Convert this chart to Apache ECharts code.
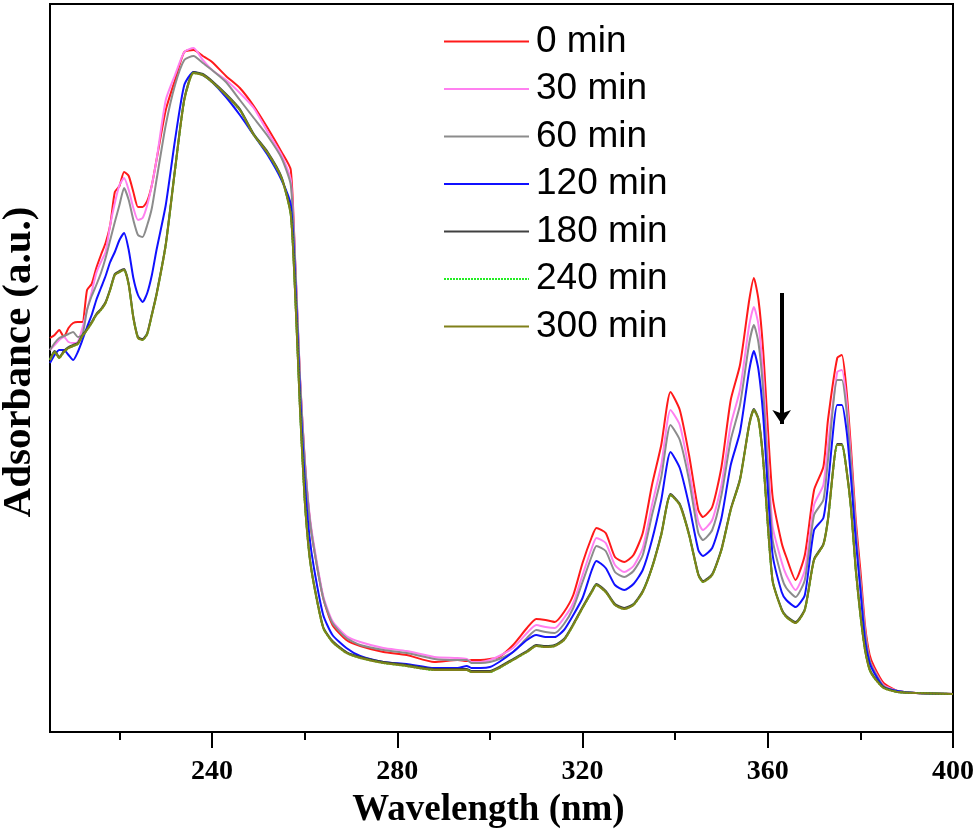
<!DOCTYPE html>
<html>
<head>
<meta charset="utf-8">
<script src="https://cdn.jsdelivr.net/npm/echarts@6/dist/echarts.min.js"></script>
<style>html,body{margin:0;padding:0;background:#fff;}#c{width:980px;height:839px;}</style>
</head>
<body>
<div id="c"></div>
<script>
// Wavelength grid (nm)
const wavelengths = [205,206,207,208,209,210,211,212,213,214,215,216,217,218,219,220,221,222,223,224,225,226,227,228,230,232,234,236,238,240,243,246,249,252,255,257,258,259,260,261,262,264,266,269,272,277,282,288,293,295,296,298,300,302,305,308,310,312,314,316,318,320,322,323,325,327,329,331,333,335,337,339,341,343,345,346,348,350,352,354,356,357,358,359,361,363,364,366,368,370,372,373,375,376,377,378,379,380,381,382,383,385,388,392,400];

// Absorbance (a.u.) per irradiation time
const abs0 = [394,397,402,395,404,409,410,410,442,448,464,477,489,507,540,546,560,556,540,525,525,531,547,572,622,652,680,682,676,670,656,644,626,604,580,562,462,352,272,217,184,134,107,92,86,80,77,70,72,71,72,72,73,75,87,104,113,112,110,120,137,169,195,204,199,175,170,177,199,247,287,340,322,277,222,215,225,265,332,367,432,454,432,382,237,189,175,152,177,242,265,312,374,377,342,282,212,162,107,77,65,49,41,39,38];
const abs30 = [382,387,392,395,390,389,390,404,422,440,459,470,480,507,529,547,554,542,524,512,514,527,547,572,632,657,680,684,672,662,652,639,624,600,577,552,467,354,274,220,187,136,111,96,90,84,81,75,74,73,70,70,72,76,84,99,107,105,104,114,129,157,184,194,189,167,160,166,184,227,267,322,307,262,210,202,212,247,307,342,407,425,407,357,207,170,157,142,162,227,247,287,360,362,332,272,204,152,102,72,62,47,41,39,38];
const abs60 = [382,389,394,396,398,400,395,397,422,436,447,459,474,492,510,527,544,532,512,497,495,507,524,552,607,647,672,676,669,662,650,632,614,596,574,547,464,352,272,217,184,134,109,94,87,82,79,73,72,72,69,69,70,73,80,94,102,100,99,108,124,150,176,186,181,160,155,161,177,217,255,307,292,252,199,192,202,237,292,327,389,407,389,342,194,155,144,135,152,217,232,272,352,352,322,267,202,150,100,72,61,46,41,39,38];
const abs120 = [369,377,382,382,377,372,380,392,405,417,432,444,456,470,480,492,499,482,454,437,430,439,457,482,527,592,647,660,657,650,635,617,597,577,552,527,447,337,252,197,164,117,97,84,76,70,68,64,64,66,64,64,65,70,80,92,97,95,95,102,117,134,162,171,164,147,142,148,162,192,232,280,264,227,182,176,184,214,267,300,362,381,362,317,179,140,132,125,137,202,214,247,327,327,302,252,192,142,92,69,59,45,41,39,38];
const abs180 = [373,381,375,381,385,387,389,397,403,410,418,423,430,443,458,461,463,448,415,395,393,399,418,438,488,563,633,660,658,651,638,623,598,580,555,518,433,323,233,178,148,105,91,80,75,70,67,63,63,63,61,61,61,65,73,81,87,86,87,93,108,125,141,148,141,128,124,128,141,165,198,238,228,198,158,151,158,183,223,253,308,323,313,273,153,123,116,110,123,173,188,213,288,288,263,223,163,118,83,63,55,45,40,39,38];
const abs240 = [372,380,374,380,384,386,388,396,402,409,417,422,429,442,457,460,462,447,414,394,392,398,417,437,487,562,632,659,657,650,637,622,597,579,554,517,432,322,232,177,147,104,90,79,74,69,66,62,62,62,60,60,60,64,72,80,86,85,86,92,107,124,140,147,140,127,123,127,140,164,197,237,227,197,157,150,157,182,222,252,307,322,312,272,152,122,115,109,122,172,187,212,287,287,262,222,162,117,82,62,54,44,40,39,38];
const abs300 = [372,380,374,380,384,386,388,396,402,409,417,422,429,442,457,460,462,447,414,394,392,398,417,437,487,562,632,659,657,650,637,622,597,579,554,517,432,322,232,177,147,104,90,79,74,69,66,62,62,62,60,60,60,64,72,80,86,85,86,92,107,124,140,147,140,127,123,127,140,164,197,237,227,197,157,150,157,182,222,252,307,322,312,272,152,122,115,109,122,172,187,212,287,287,262,222,162,117,82,62,54,44,40,39,38];

const seriesNames = ['0 min','30 min','60 min','120 min','180 min','240 min','300 min'];
const seriesValues = [abs0, abs30, abs60, abs120, abs180, abs240, abs300];
const seriesColors = ['#ff1a1a','#ff80f0','#8c8c8c','#1010ff','#404040','#22ee22','#80801a'];

const majorTicks = [240,280,320,360,400];
const minorTicks = [220,260,300,340,380];
// arrow annotation (nm, a.u.)
const arrowStart = [363, 439];
const arrowEnd = [363, 308];

const serif = "'Liberation Serif','Times New Roman',serif";
const sans = "'Liberation Sans',Arial,sans-serif";

const chart = echarts.init(document.getElementById('c'));
const series = seriesNames.map((n, k) => {
  const s = {
    name: n,
    type: 'line',
    xAxisIndex: 0,
    symbol: 'none',
    smooth: 0.2,
    data: wavelengths.map((w, i) => [w, seriesValues[k][i]]),
    lineStyle: { color: seriesColors[k], width: 2, type: k === 5 ? [2, 1] : 'solid' },
    itemStyle: { color: seriesColors[k] },
    z: 2 + k
  };
  if (k === 6) {
    s.markLine = {
      silent: true,
      symbol: ['none', 'arrow'],
      symbolSize: [14, 14],
      label: { show: false },
      lineStyle: { color: '#000', width: 4, type: 'solid' },
      data: [[{ coord: arrowStart }, { coord: arrowEnd }]]
    };
  }
  return s;
});

chart.setOption({
  animation: false,
  backgroundColor: '#fff',
  grid: { left: 50, right: 27, top: 4, bottom: 107, outerBoundsMode: 'none', containLabel: false, show: true, borderColor: '#000', borderWidth: 2, backgroundColor: 'transparent' },
  legend: {
    orient: 'vertical', left: 443, top: 23, padding: 0,
    itemWidth: 85, itemHeight: 14, itemGap: 10.5,
    itemStyle: { opacity: 0 },
    textStyle: { fontFamily: sans, fontSize: 37, color: '#000', lineHeight: 36, padding: [0, 0, 0, 2] },
    data: seriesNames
  },
  xAxis: [{
    type: 'value', min: 205, max: 400,
    axisLine: { show: true, lineStyle: { color: '#000', width: 2 } },
    axisTick: { show: true, customValues: majorTicks, length: 16, lineStyle: { color: '#000', width: 2 } },
    axisLabel: { customValues: majorTicks, fontFamily: serif, fontWeight: 'bold', fontSize: 28, color: '#000', margin: 26 },
    splitLine: { show: false },
    name: 'Wavelength (nm)', nameLocation: 'middle', nameGap: 60,
    nameTextStyle: { fontFamily: serif, fontWeight: 'bold', fontSize: 37, color: '#000', padding: [0, 26, 0, 0] }
  }, {
    type: 'value', min: 205, max: 400, position: 'bottom',
    axisLine: { show: false },
    axisTick: { show: true, customValues: minorTicks, length: 8, lineStyle: { color: '#000', width: 2 } },
    axisLabel: { show: false },
    splitLine: { show: false }
  }],
  yAxis: {
    type: 'value', min: 0, max: 728,
    axisLine: { show: true, lineStyle: { color: '#000', width: 2 } },
    axisTick: { show: false }, axisLabel: { show: false }, splitLine: { show: false },
    name: 'Adsorbance (a.u.)', nameLocation: 'middle', nameGap: 10,
    nameTextStyle: { fontFamily: serif, fontWeight: 'bold', fontSize: 41, color: '#000', padding: [0, 0, 0, 12] }
  },
  series: series
});
</script>
</body>
</html>
